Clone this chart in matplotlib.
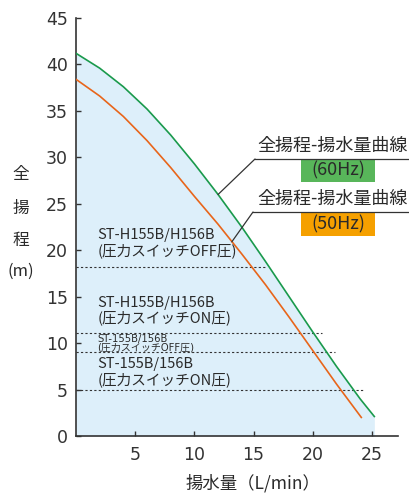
import numpy as np
import matplotlib
matplotlib.use('Agg')
import matplotlib.pyplot as plt
from matplotlib.patches import Rectangle
from matplotlib.lines import Line2D

plt.rcParams['font.family'] = ['Noto Sans CJK JP', 'DejaVu Sans']

# 60Hz / 50Hz curves (flow L/min, head m)
q_60 = [0, 2, 4, 6, 8, 10, 12, 14, 16, 18, 20, 22, 24, 25.2]
h_60 = [41.2, 39.6, 37.6, 35.2, 32.4, 29.3, 26.0, 22.5, 18.8, 15.0, 11.2, 7.5, 4.0, 2.1]
q_50 = [0, 2, 4, 6, 8, 10, 12, 14, 16, 18, 20, 22, 24.1]
h_50 = [38.4, 36.6, 34.4, 31.8, 28.9, 25.8, 22.8, 19.6, 16.3, 12.8, 9.2, 5.6, 2.0]

# pressure switch levels
switch_h = [18.2, 11.1, 9.0, 5.0]
switch_end = [16.0, 20.8, 21.9, 24.3]
switch_labels = ['ST-H155B/H156B\n(圧力スイッチOFF圧)',
                 'ST-H155B/H156B\n(圧力スイッチON圧)',
                 'ST-155B/156B\n(圧力スイッチOFF圧)',
                 'ST-155B/156B\n(圧力スイッチON圧)']
label_y = [20.8, 13.5, 10.0, 6.9]

yticks = [0, 5, 10, 15, 20, 25, 30, 35, 40, 45]
xticks = [5, 10, 15, 20, 25]

W, H = 409, 495
fig = plt.figure(figsize=(W / 100, H / 100), dpi=100)
ax = fig.add_axes([76 / W, 1 - 436 / H, 322 / W, 418 / H])

def fx(px):
    return px / W

def fy(py):
    return 1 - py / H

ax.fill_between(q_60, h_60, 0, color='#ddeffa', lw=0, zorder=0)
ax.plot(q_60, h_60, color='#1a9a4c', lw=1.2, zorder=3)
ax.plot(q_50, h_50, color='#e8651a', lw=1.2, zorder=3)

for yv, xe in zip(switch_h, switch_end):
    ax.plot([0, xe], [yv, yv], color='#333333', lw=0.8, ls=(0, (2, 2)), zorder=2)

for i, (txt, yv) in enumerate(zip(switch_labels, label_y)):
    if i == 2:
        ax.text(1.8, yv, txt, fontsize=7.2, va='center', ha='left', color='#2a2a2a',
                family=['DejaVu Sans', 'Noto Sans CJK JP'], linespacing=0.85, zorder=4)
    else:
        ax.text(1.8, yv, txt, fontsize=10.5, va='center', ha='left', color='#2a2a2a',
                linespacing=1.1, zorder=4)

ax.set_xlim(0, 27.2)
ax.set_ylim(0, 45)
ax.set_xticks(xticks)
ax.set_yticks(yticks)
ax.set_xticklabels([str(v) for v in xticks], family='DejaVu Sans', fontsize=12.5, color='#333333')
ax.set_yticklabels([str(v) for v in yticks], family='DejaVu Sans', fontsize=12.5, color='#333333')
ax.tick_params(axis='both', direction='in', length=3.5, width=1, color='#333333')
ax.tick_params(axis='y', pad=6)
ax.tick_params(axis='x', pad=7)
for s in ['top', 'right']:
    ax.spines[s].set_visible(False)
for s in ['left', 'bottom']:
    ax.spines[s].set_color('#333333')
    ax.spines[s].set_linewidth(1.2)
ax.set_facecolor('none')

# y label stacked vertically
for ch, py in zip(['全', '揚', '程', '(m)'], [175, 208, 240, 271]):
    fig.text(fx(21), fy(py), ch, fontsize=12, ha='center', va='center', color='#2a2a2a')

fig.text(fx(253), fy(483), '揚水量（L/min）', fontsize=12.5, ha='center', va='center',
         color='#2a2a2a')

# curve annotations
callouts = [
    ('(60Hz)', '#58b65a', (12.0, 26.0), 255, 159, 146, 159),
    ('(50Hz)', '#f5a000', (13.16, 20.9), 253, 212, 199, 213),
]
for lab, col, xy, lx, ly, ty, by in callouts:
    ax.annotate('', xy=xy, xycoords='data', xytext=(fx(lx), fy(ly)),
                textcoords='figure fraction',
                arrowprops=dict(arrowstyle='-', lw=0.9, color='#333333',
                                shrinkA=0, shrinkB=0))
    fig.add_artist(Line2D([fx(lx), 1.0], [fy(ly), fy(ly)], transform=fig.transFigure,
                          color='#333333', lw=0.9))
    fig.text(fx(257), fy(ty), '全揚程-揚水量曲線', fontsize=13, ha='left', va='center',
             color='#2a2a2a')
    fig.add_artist(Rectangle((fx(301), fy(by + 23)), 74 / W, 23 / H,
                             transform=fig.transFigure, color=col, lw=0))
    fig.text(fx(338), fy(by + 11.5), lab, fontsize=13, ha='center', va='center',
             color='#2a2a2a')

fig.savefig('out.png', dpi=100)
